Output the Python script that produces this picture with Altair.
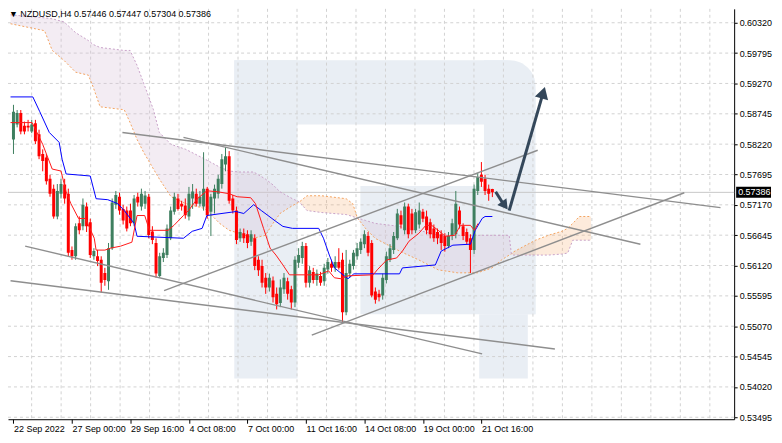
import altair as alt
import pandas as pd

# ---------------- candles: NZDUSD H4, bar 0 = 22 Sep 2022 ----------------
opens = [.5830,.5856,.5876,.5854,.5854,.5844,.5858,.5839,.5805,.5799,.5762,.5745,.5697,.5736,.5752,.5736,.5639,.5628,.5685,.5680,
         .5714,.5687,.5628,.5628,.5622,.5599,.5585,.5642,.5717,.5731,.5710,.5707,.5707,.5685,.5731,.5714,.5719,.5731,.5671,.5651,
         .5594,.5625,.5630,.5659,.5705,.5728,.5719,.5716,.5697,.5728,.5736,.5719,.5714,.5745,.5705,.5728,.5736,.5753,.5787,.5801,
         .5728,.5707,.5659,.5668,.5666,.5653,.5659,.5622,.5611,.5591,.5574,.5586,.5563,.5547,.5571,.5585,.5571,.5548,.5617,.5625,
         .5646,.5582,.5601,.5587,.5594,.5585,.5605,.5615,.5608,.5618,.5622,.5531,.5598,.5611,.5628,.5639,.5649,.5663,.5651,.5567,
         .5563,.5560,.5587,.5622,.5639,.5659,.5699,.5673,.5714,.5702,.5673,.5683,.5705,.5697,.5687,.5676,.5670,.5666,.5663,.5646,
         .5663,.5666,.5707,.5680,.5670,.5659,.5639,.5741,.5769,.5762,.5745,.57446]
highs = [.5890,.5881,.5881,.5861,.5864,.5864,.5864,.5847,.5813,.5805,.5769,.5752,.5753,.5762,.5762,.5745,.5645,.5685,.5697,.5728,
         .5721,.5693,.5642,.5639,.5628,.5608,.5651,.5728,.5741,.5738,.5717,.5714,.5719,.5734,.5738,.5745,.5741,.5736,.5680,.5659,
         .5634,.5642,.5683,.5714,.5738,.5736,.5724,.5728,.5748,.5753,.5745,.5741,.5808,.5748,.5736,.5752,.5769,.5805,.5817,.5810,
         .5734,.5714,.5676,.5676,.5673,.5673,.5666,.5628,.5622,.5599,.5598,.5593,.5574,.5588,.5599,.5591,.5577,.5628,.5642,.5653,
         .5651,.5611,.5608,.5605,.5601,.5615,.5625,.5622,.5628,.5642,.5634,.5639,.5622,.5639,.5651,.5659,.5673,.5670,.5656,.5574,
         .5570,.5598,.5636,.5649,.5670,.5710,.5707,.5721,.5719,.5710,.5710,.5721,.5710,.5707,.5693,.5683,.5676,.5673,.5668,.5670,
         .5693,.5741,.5714,.5685,.5676,.5666,.5752,.5772,.5791,.5769,.5752,.57447]
lows = [.5805,.5851,.5839,.5839,.5844,.5841,.5822,.5796,.5775,.5752,.5731,.5693,.5692,.5728,.5719,.5628,.5622,.5622,.5666,.5673,
        .5670,.5625,.5622,.5611,.5565,.5577,.5570,.5639,.5710,.5700,.5683,.5671,.5680,.5680,.5714,.5707,.5710,.5659,.5649,.5591,
        .5591,.5618,.5625,.5656,.5700,.5707,.5707,.5693,.5690,.5710,.5714,.5714,.5707,.5693,.5663,.5702,.5728,.5745,.5775,.5719,
        .5702,.5649,.5653,.5651,.5642,.5646,.5604,.5594,.5574,.5563,.5567,.5548,.5536,.5540,.5563,.5553,.5536,.5540,.5608,.5615,
        .5574,.5574,.5581,.5577,.5577,.5577,.5598,.5601,.5601,.5605,.5514,.5526,.5591,.5605,.5622,.5632,.5642,.5628,.5557,.5546,
        .5550,.5553,.5581,.5618,.5632,.5656,.5676,.5666,.5659,.5666,.5668,.5676,.5687,.5666,.5659,.5653,.5649,.5639,.5636,.5642,
        .5656,.5659,.5676,.5656,.5649,.5599,.5632,.5734,.5748,.5734,.5724,.57304]
closes = [.5878,.5876,.5844,.5844,.5851,.5856,.5827,.5801,.5793,.5758,.5736,.5697,.5741,.5753,.5728,.5634,.5628,.5680,.5673,.5717,
          .5680,.5630,.5637,.5620,.5582,.5587,.5642,.5721,.5734,.5707,.5690,.5676,.5685,.5728,.5721,.5736,.5733,.5665,.5656,.5598,
          .5628,.5634,.5676,.5707,.5731,.5710,.5714,.5699,.5736,.5740,.5719,.5731,.5745,.5699,.5731,.5745,.5762,.5796,.5801,.5724,
          .5707,.5656,.5670,.5659,.5651,.5666,.5611,.5604,.5582,.5574,.5591,.5557,.5545,.5574,.5591,.5563,.5548,.5622,.5630,.5646,
          .5582,.5604,.5587,.5598,.5582,.5608,.5618,.5608,.5618,.5608,.5531,.5599,.5615,.5634,.5642,.5653,.5666,.5634,.5560,.5553,
          .5557,.5591,.5628,.5642,.5663,.5702,.5683,.5714,.5666,.5673,.5704,.5707,.5693,.5673,.5666,.5659,.5659,.5651,.5646,.5663,
          .5685,.5719,.5683,.5663,.5653,.5639,.5745,.5765,.5757,.5741,.5736,.57386]

# ---------------- axes ----------------
tick_bars = [0, 16, 32, 48, 64, 80, 96, 112, 128]
tick_labels = ["22 Sep 2022", "27 Sep 00:00", "29 Sep 16:00", "4 Oct 08:00", "7 Oct 00:00",
               "11 Oct 16:00", "14 Oct 08:00", "19 Oct 00:00", "21 Oct 16:00"]
price_ticks = [0.53495, 0.54020, 0.54545, 0.55070, 0.55595, 0.56120, 0.56645,
               0.57170, 0.57695, 0.58220, 0.58745, 0.59270, 0.59795, 0.60320]
last_price = 0.57386
title_text = "\u25BC NZDUSD,H4  0.57446 0.57447 0.57304 0.57386"

# ---------------- Ichimoku: Kijun (blue) and Tenkan (red) ----------------
kijun_x = [-0.8,5.3,7.2,9.8,12.5,13.3,14.4,21.0,22.6,25.8,28.5,30.3,33.0,33.8,46.5,48.9,51.6,52.9,60.9,63.0,65.7,67.8,71.8,
           73.7,76.3,83.5,84.8,86.4,87.8,91.5,93.1,105.6,106.4,115.4,117.0,120.2,125.0,126.3,128.2,129.0,131.0]
kijun_y = [.59037,.59037,.58781,.58422,.58251,.57960,.57704,.57669,.57276,.57259,.57191,.57071,.56849,.56626,.56592,.56712,
           .56763,.56985,.57054,.57020,.57173,.57071,.56883,.56797,.56763,.56763,.56592,.56301,.56079,.55891,.55976,.55976,
           .56079,.56130,.56370,.56472,.56489,.56729,.56934,.56968,.56968]
tenkan_x = [-0.8,5.1,8.0,10.6,13.0,14.4,15.7,17.8,19.7,22.1,22.6,25.0,26.6,29.3,32.4,33.8,35.9,37.2,42.3,43.9,46.5,47.9,50.3,
            52.9,55.9,59.0,61.2,64.9,66.2,68.4,70.2,71.8,73.7,75.5,83.5,86.2,87.8,89.6,91.5,98.4,99.5,102.1,104.8,106.4,108.2,
            110.9,112.8,114.4,116.2,118.1,120.7,122.3,125.0,126.1,127.1]
tenkan_y = [.58593,.58593,.58216,.57789,.57755,.57396,.57191,.56934,.56934,.56592,.56387,.56387,.56421,.56455,.56524,.56985,
            .56985,.56729,.56729,.56815,.56985,.57071,.57276,.57413,.57396,.57362,.57310,.57293,.57191,.56763,.56421,.56301,
            .56130,.55959,.55959,.56028,.55908,.55891,.55942,.55959,.56045,.56216,.56250,.56370,.56541,.56678,.56815,.56815,
            .56729,.56626,.56643,.56815,.56815,.56729,.56849]

# ---------------- Ichimoku cloud (Senkou A / Senkou B), by segment ----------------
seg1_x = [-0.8,8.5,10.6,13.8,17.0,20.5,21.8,23.7,30.3,31.9,33.8,35.6,38.3,39.9,43.1,47.1,52.4,56.4,59.0,61.7,65.7,68.9,71.0,72.9,76.3,78.2]
seg1_a = [.60303,.60183,.59841,.59670,.59465,.59413,.59208,.58866,.58815,.58593,.58302,.58080,.57789,.57618,.57310,.57191,
          .57105,.56849,.56729,.56678,.56592,.56643,.56849,.57020,.57156,.57220]
seg1_b = [.60457,.60405,.60388,.60337,.60149,.60012,.59944,.59892,.59841,.59841,.59584,.59277,.58815,.58422,.58216,.58131,
          .57960,.57823,.57755,.57738,.57738,.57618,.57515,.57396,.57276,.57220]
seg2_x = [78.2,80.3,84.3,91.0,92.8,94.1]
seg2_a = [.57220,.57327,.57327,.57276,.57191,.56940]
seg2_b = [.57220,.57071,.57037,.57002,.56968,.56940]
seg3_x = [94.1,96.3,98.9,105.6,110.9,116.2,121.5,126.9,130.9,133.5,135.6,136.2]
seg3_a = [.56940,.56763,.56592,.56370,.56216,.56045,.55994,.55994,.56079,.56216,.56301,.56318]
seg3_b = [.56940,.56900,.56849,.56797,.56729,.56643,.56643,.56643,.56643,.56643,.56643,.56318]
seg4_x = [136.2,136.7,140.2,142.8,146.3,150.0,151.6,153.0,154.8,158.0]
seg4_a = [.56318,.56353,.56472,.56558,.56643,.56712,.56763,.56849,.56968,.56968]
seg4_b = [.56318,.56301,.56301,.56301,.56301,.56318,.56336,.56558,.56558,.56558]

# ---------------- drawn trend lines and forecast arrows ----------------
trend_x0 = [29.8, 46.5, 3.2, -0.8, 41.2, 81.6]
trend_y0 = [.58422, .58336, .56455, .55857, .55686, .54916]
trend_x1 = [193.4, 171.5, 128.2, 148.1, 143.4, 183.5]
trend_y1 = [.57122, .56489, .54591, .54677, .58114, .57379]
arrow_x0 = [131.9, 135.6]
arrow_y0 = [.57396, .57071]
arrow_x1 = [134.3, 144.9]
arrow_y1 = [.57156, .59111]
head_x = [134.4, 144.9]
head_y = [.57156, .59111]
head_angle = [143.6, 16.6]

# ---------------- layout / scales ----------------
W, H = 729, 412
FONT = "Liberation Sans"
XS = alt.Scale(domain=[-0.134, 195.78], nice=False, zero=False)
YS = alt.Scale(domain=[0.53461, 0.60561], nice=False, zero=False)
label_js = "[" + ",".join("'%s'" % t for t in tick_labels) + "][round(datum.value/16)]"
XAX = alt.Axis(values=tick_bars, labelExpr=label_js, labelAlign="left", labelFont=FONT, labelFontSize=9,
               labelColor="black", tickColor="black", tickSize=4, domainColor="black", grid=False,
               title=None, labelPadding=1, labelFlush=False, labelOverlap=False)
YAX = alt.Axis(orient="right", values=price_ticks, format=".5f", labelFont=FONT, labelFontSize=9,
               labelColor="black", tickColor="black", tickSize=3, domainColor="black", grid=False,
               title=None, labelPadding=2, labelOverlap=False, labelFlush=False)


def X(f):
    return alt.X(f, type="quantitative", scale=XS, axis=XAX)


def Y(f):
    return alt.Y(f, type="quantitative", scale=YS, axis=YAX, stack=None)


candles = pd.DataFrame({"x": list(range(len(opens))), "o": opens, "h": highs, "l": lows, "c": closes})
candles["dir"] = ["up" if c >= o else "down" for o, c in zip(opens, closes)]
dir_color = alt.Color("dir:N", scale=alt.Scale(domain=["up", "down"], range=["#3e7f5f", "#ff0000"]), legend=None)

# watermark "R" (decorative)
wm = pd.DataFrame({
    "x": [60.4, 60.4, 128.7, 94.9, 127.4],
    "x2": [77.7, 142.8, 142.8, 142.8, 140.7],
    "y": [.54164, .58559, .55275, .55275, .54164],
    "y2": [.59670, .59670, .59670, .57498, .55275],
    "r": [0, 40, 40, 0, 0],
})
wm_layers = []
for i in range(len(wm)):
    wm_layers.append(
        alt.Chart(wm.iloc[[i]]).mark_rect(color="#e9eef4", cornerRadiusTopRight=int(wm["r"][i]), clip=True)
        .encode(x=X("x"), x2="x2", y=Y("y"), y2="y2"))

grid_h = alt.Chart(pd.DataFrame({"y": price_ticks})).mark_rule(
    color="#d2d2d2", strokeDash=[3, 3], strokeWidth=1).encode(y=Y("y"))
grid_v = alt.Chart(pd.DataFrame({"x": [4.97 + 8.066 * k for k in range(24)]})).mark_rule(
    color="#d2d2d2", strokeDash=[3, 3], strokeWidth=1).encode(x=X("x"))
price_line = alt.Chart(pd.DataFrame({"y": [last_price]})).mark_rule(
    color="#c8c8c8", strokeWidth=1).encode(y=Y("y"))


def seg_df(xs, a, b, name):
    return pd.DataFrame({"x": xs, "a": a, "b": b, "seg": name})


purple = pd.concat([seg_df(seg1_x, seg1_a, seg1_b, "s1"), seg_df(seg3_x, seg3_a, seg3_b, "s3")])
orange = pd.concat([seg_df(seg2_x, seg2_a, seg2_b, "s2"), seg_df(seg4_x, seg4_a, seg4_b, "s4")])
cloud_p = alt.Chart(purple).mark_area(color="#d8bfd8", opacity=0.3, clip=True).encode(
    x=X("x"), y=Y("a"), y2="b", detail="seg:N")
cloud_o = alt.Chart(orange).mark_area(color="#f4a460", opacity=0.22, clip=True).encode(
    x=X("x"), y=Y("a"), y2="b", detail="seg:N")

allx = seg1_x + seg2_x[1:] + seg3_x[1:] + seg4_x[1:]
alla = seg1_a + seg2_a[1:] + seg3_a[1:] + seg4_a[1:]
allb = seg1_b + seg2_b[1:] + seg3_b[1:] + seg4_b[1:]
span_a = alt.Chart(pd.DataFrame({"x": allx, "y": alla})).mark_line(
    color="#f4a460", strokeDash=[2, 2], strokeWidth=1, clip=True).encode(x=X("x"), y=Y("y"))
span_b = alt.Chart(pd.DataFrame({"x": allx, "y": allb})).mark_line(
    color="#c9a3c9", strokeDash=[2, 2], strokeWidth=1, clip=True).encode(x=X("x"), y=Y("y"))

wicks = alt.Chart(candles).mark_rule(strokeWidth=1, clip=True).encode(
    x=X("x"), y=Y("l"), y2="h", color=dir_color)
bodies = alt.Chart(candles).mark_bar(size=3, clip=True).encode(
    x=X("x"), y=Y("o"), y2="c", color=dir_color)

kijun = alt.Chart(pd.DataFrame({"x": kijun_x, "y": kijun_y})).mark_line(
    color="#0000ff", strokeWidth=1, clip=True).encode(x=X("x"), y=Y("y"))
tenkan = alt.Chart(pd.DataFrame({"x": tenkan_x, "y": tenkan_y})).mark_line(
    color="#ff1a1a", strokeWidth=1, clip=True).encode(x=X("x"), y=Y("y"))

trend = alt.Chart(pd.DataFrame({"x": trend_x0, "y": trend_y0, "x2": trend_x1, "y2": trend_y1})).mark_rule(
    color="#8e8e8e", strokeWidth=1.4, clip=True).encode(x=X("x"), y=Y("y"), x2="x2", y2="y2")
arrows = alt.Chart(pd.DataFrame({"x": arrow_x0, "y": arrow_y0, "x2": arrow_x1, "y2": arrow_y1})).mark_rule(
    color="#34475a", strokeWidth=3, clip=True).encode(x=X("x"), y=Y("y"), x2="x2", y2="y2")
heads = alt.Chart(pd.DataFrame({"x": head_x, "y": head_y, "ang": head_angle, "s": [130, 190]})).mark_point(
    shape="triangle-up", filled=True, color="#34475a", opacity=1).encode(
    x=X("x"), y=Y("y"), angle=alt.Angle("ang:Q", scale=None), size=alt.Size("s:Q", scale=None, legend=None))

last_df = pd.DataFrame({"y": [last_price], "t": ["%.5f" % last_price]})
price_box = alt.Chart(last_df).mark_rule(color="black", strokeWidth=11).encode(
    x=alt.value(W + 2), x2=alt.value(W + 37), y=Y("y"))
price_txt = alt.Chart(last_df).mark_text(align="left", baseline="middle", color="white",
                                         font=FONT, fontSize=9).encode(
    x=alt.value(W + 4), y=Y("y"), text="t:N")

title = alt.Chart(pd.DataFrame({"t": [title_text]})).mark_text(
    align="left", baseline="alphabetic", font=FONT, fontSize=9, color="black").encode(
    x=alt.value(1), y=alt.value(8), text="t:N")

chart = alt.layer(
    *wm_layers, grid_h, grid_v, price_line, cloud_p, cloud_o, span_a, span_b,
    wicks, bodies, kijun, tenkan, trend, arrows, heads, price_box, price_txt, title
).properties(
    width=W, height=H,
    padding={"left": 0, "top": 0, "right": 40, "bottom": 14},
    autosize=alt.AutoSizeParams(type="none"),
    background="white",
).configure_view(stroke=None)

chart.save("out.html", embed_options={"renderer": "svg", "actions": False})
